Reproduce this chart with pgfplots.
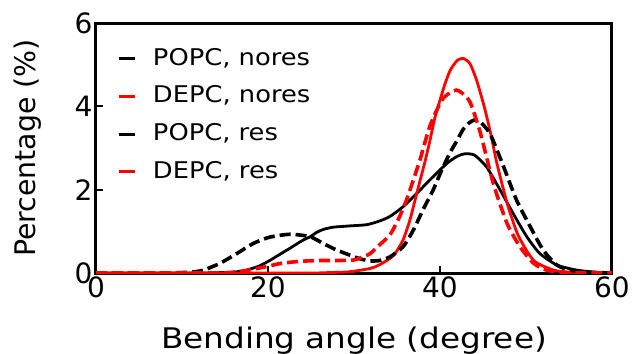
\documentclass[border=0pt]{standalone}
\usepackage{pgfplots}
\pgfplotsset{compat=1.18}
\usepackage{fontspec}
\setmainfont{DejaVu Sans}

% slightly widened text, as in the original figure
\newcommand{\wide}[2][1.12]{\scalebox{#1}[1]{#2}}

% Bending-angle distributions
\pgfplotstableread{
x y
0 0
12 0
14 0.01
16 0.02
17.5 0.07
19 0.17
20.2 0.3
21 0.4
22.6 0.6
24 0.78
24.9 0.87
25.7 0.98
26.5 1.05
27.6 1.10
29.5 1.13
31.5 1.16
33 1.25
34.2 1.36
35.7 1.59
37.3 1.91
38.8 2.23
40.8 2.63
42 2.80
42.9 2.86
44 2.83
45.4 2.55
47 1.99
48.5 1.43
50.1 0.87
51.6 0.47
53.6 0.19
55.9 0.07
58 0.02
60 0
}\popcnores

\pgfplotstableread{
x y
0 0
24 0
27 0.01
29.5 0.03
31.9 0.11
33 0.2
34.6 0.42
35.7 0.79
36.5 1.27
37.1 1.75
37.7 2.23
38.3 2.71
38.8 3.15
39.4 3.72
40.0 4.15
40.6 4.55
41.2 4.87
42 5.10
42.7 5.15
43.5 5.02
44.3 4.6
45.2 3.95
46.0 3.25
46.6 2.65
47.8 1.68
49.1 0.90
50.9 0.30
53.2 0.07
55 0.02
57 0
60 0
}\depcnores

\pgfplotstableread{
x y
0 0
8 0
10 0.01
11.5 0.03
12.5 0.07
14.4 0.23
16.4 0.47
18.3 0.71
20.2 0.86
22.6 0.93
24.9 0.87
26.4 0.71
27.2 0.63
28 0.55
29.5 0.43
30.7 0.34
31.9 0.29
33 0.30
34.2 0.39
35.7 0.63
36.9 1.03
38.1 1.55
39.2 1.99
40.2 2.47
41.2 2.90
41.9 3.15
42.7 3.45
43.5 3.62
44.4 3.67
45.8 3.35
47.4 2.55
48.9 1.75
50.5 1.11
52 0.55
53.6 0.19
55.1 0.07
57 0.02
60 0
}\popcres

\pgfplotstableread{
x y
0 0
14 0
16 0.02
17.5 0.06
19 0.12
20.2 0.17
21.5 0.23
23.7 0.28
26 0.30
28 0.30
29.9 0.31
31 0.38
31.9 0.47
33 0.68
34.2 0.92
35.3 1.35
36.1 1.75
36.9 2.23
37.7 2.73
38.1 3.03
38.8 3.51
39.6 3.90
40.4 4.20
41.2 4.33
41.9 4.39
42.5 4.33
43.5 4.10
44.7 3.36
46.2 2.15
47.8 1.19
49.3 0.63
50.9 0.23
52.4 0.07
54 0.02
56 0
60 0
}\depcres

\begin{document}
\begin{tikzpicture}
\begin{axis}[
  scale only axis,
  width=516pt, height=250pt,
  xmin=0, xmax=60, ymin=0, ymax=6,
  xtick={0,20,40,60}, ytick={0,2,4,6},
  tick pos=left,
  tick align=inside,
  major tick length=7pt,
  tick style={black, line width=2pt},
  axis line style={line width=3pt},
  /pgf/number format/assume math mode=true,
  tick label style={font=\fontsize{28}{28}\selectfont},
  label style={font=\fontsize{28.4}{34}\selectfont},
  xlabel={\wide[1.15]{Bending angle (degree)}},
  ylabel={Percentage (\%)},
  xlabel style={at={(axis description cs:0.5,-0.3)}, anchor=base},
  ylabel style={at={(axis description cs:-0.118,0.5)}, anchor=base},
  legend cell align=left,
  legend image code/.code={\draw[#1, solid, line width=2.8pt] (0pt,0pt) -- (16pt,0pt);},
  legend style={
    at={(axis description cs:0.0407,0.90)}, anchor=north west,
    draw=none, fill=none, inner sep=0pt,
    font=\fontsize{23}{23}\selectfont,
    row sep=16.7pt, column sep=15pt,
    nodes={inner ysep=0pt, text height=17pt, text depth=4pt},
  },
]
\addplot[black, line width=2.8pt, smooth, tension=0.4] table[x=x, y=y] {\popcnores};
\addlegendentry{\wide{POPC, nores}}
\addplot[red, line width=2.8pt, smooth, tension=0.4] table[x=x, y=y] {\depcnores};
\addlegendentry{\wide{DEPC, nores}}
\addplot[black, line width=3.6pt, smooth, tension=0.4, dash pattern=on 11pt off 5pt] table[x=x, y=y] {\popcres};
\addlegendentry{\wide{POPC, res}}
\addplot[red, line width=3.6pt, smooth, tension=0.4, dash pattern=on 11pt off 5pt] table[x=x, y=y] {\depcres};
\addlegendentry{\wide{DEPC, res}}
\coordinate (ll) at (rel axis cs:0,0);
\end{axis}
\pgfresetboundingbox
\path (ll) ++(-96pt,-81pt) rectangle ++(633pt,354pt);
\end{tikzpicture}
\end{document}
